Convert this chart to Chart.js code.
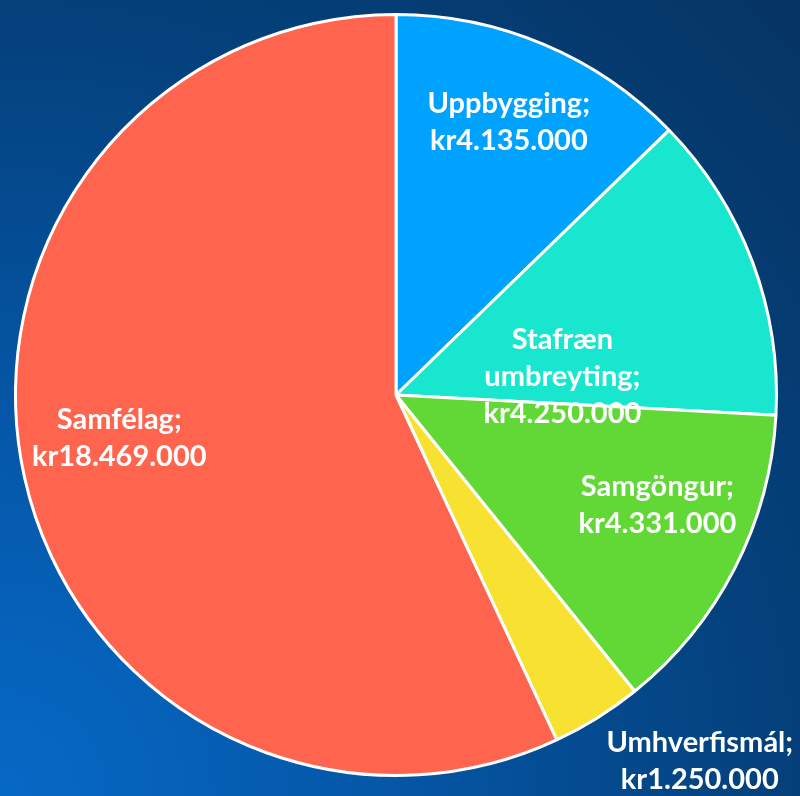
<!DOCTYPE html>
<html>
<head>
<meta charset="utf-8">
<script src="https://cdn.jsdelivr.net/npm/chart.js@4"></script>
<style>
    html, body { margin: 0; padding: 0; }
    body {
        width: 800px;
        height: 796px;
        overflow: hidden;
        background: radial-gradient(circle at 0% 100%, #0669c6 0%, #0556a6 35%, #04417c 68%, #063463 100%);
    }
    canvas { display: block; }
</style>
</head>
<body>
<canvas id="budgetChart" width="800" height="796"></canvas>
<script>
const categories = ['Uppbygging', 'Stafræn umbreyting', 'Samgöngur', 'Umhverfismál', 'Samfélag'];
const amounts = [4135000, 4250000, 4331000, 1250000, 18469000];
const sliceColors = ['#00a2ff', '#18e6cf', '#62d836', '#f8e231', '#ff644e'];

// where each label sits: fraction along the slice angle, fraction of radius
const labelSpots = [
    { t: 0.49, r: 0.775 },
    { t: 0.80, r: 0.44 },
    { t: 0.41, r: 0.745 },
    { t: -0.06, r: 1.25 },
    { t: 0.518, r: 0.736 }
];

function formatKr(v) {
    return 'kr' + String(v).replace(/\B(?=(\d{3})+(?!\d))/g, '.');
}

const sliceLabels = {
    id: 'sliceLabels',
    afterDatasetsDraw(chart) {
        const ctx = chart.ctx;
        const arcs = chart.getDatasetMeta(0).data;
        ctx.save();
        ctx.fillStyle = '#ffffff';
        ctx.font = 'bold 29px Lato';
        ctx.textAlign = 'center';
        ctx.textBaseline = 'middle';
        arcs.forEach((arc, i) => {
            const p = arc.getProps(['x', 'y', 'startAngle', 'endAngle', 'outerRadius'], true);
            const spot = labelSpots[i];
            const a = p.startAngle + spot.t * (p.endAngle - p.startAngle);
            const cx = p.x + Math.cos(a) * p.outerRadius * spot.r;
            const cy = p.y + Math.sin(a) * p.outerRadius * spot.r;
            const words = categories[i].split(' ');
            words[words.length - 1] += ';';
            const lines = words.concat([formatKr(amounts[i])]);
            const lh = 37;
            const top = cy - (lines.length - 1) * lh / 2;
            lines.forEach((line, j) => ctx.fillText(line, cx, top + j * lh));
        });
        ctx.restore();
    }
};

new Chart(document.getElementById('budgetChart'), {
    type: 'pie',
    data: {
        labels: categories,
        datasets: [{
            data: amounts,
            backgroundColor: sliceColors,
            borderColor: '#ffffff',
            borderWidth: 3
        }]
    },
    options: {
        responsive: false,
        animation: false,
        layout: { padding: { left: 14, right: 22, top: 13, bottom: 19 } },
        plugins: {
            legend: { display: false },
            tooltip: { enabled: false }
        }
    },
    plugins: [sliceLabels]
});
</script>
</body>
</html>
